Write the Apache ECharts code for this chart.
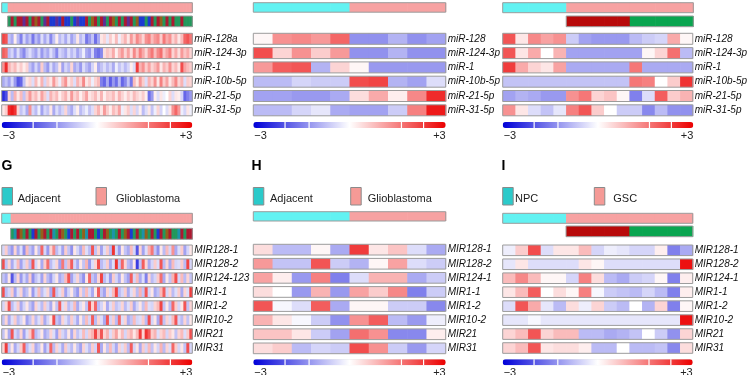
<!DOCTYPE html>
<html><head><meta charset="utf-8">
<script src="https://cdn.jsdelivr.net/npm/echarts@6/dist/echarts.min.js"></script>
<style>html,body{margin:0;padding:0;background:#fff}#c{width:750px;height:375px}</style>
</head><body><div id="c"></div><script>
// ---------------- DATA ----------------
const rowsTopLeft = ['miR-128a','miR-124-3p','miR-1','miR-10b-5p','miR-21-5p','miR-31-5p'];
const rowsTopSmall = ['miR-128','miR-124-3p','miR-1','miR-10b-5p','miR-21-5p','miR-31-5p'];
const rowsG = ['MIR128-1','MIR128-2','MIR124-123','MIR1-1','MIR1-2','MIR10-2','MIR21','MIR31'];
const rowsHI = ['MIR128-1','MIR128-2','MIR124-1','MIR1-1','MIR1-2','MIR10-2','MIR21','MIR31'];

// group sizes (samples per group, left to right)
const groupsTopLeft = [['Adjacent',2],['Glioblastoma',62]];
const groupsTopMid = [['Adjacent',5],['Glioblastoma',5]];
const groupsTopRight = [['NPC',5],['GSC',10]];
const groupsG = [['Adjacent',3],['Glioblastoma',61]];
const groupsH = [['Adjacent',5],['Glioblastoma',5]];
const groupsI = [['NPC',5],['GSC',10]];

// subtype annotation (tumour columns only)
const subtypeTopLeft = ['G','R','G','R','R','P','R','G','R','O','R','G','P','R',
  'B','B','P','B','R','B','B','G','B','P','B','B',
  'R','G','O','R','G','R','P','G','R','O','G','R','G','R','P','R','G','O',
  'B','B','G','B','R','G','R','O','G','R','G','R','G','G','R','G','G','G'];
const subtypeG = ['G','T','R','O','G','R','G','B','R','G','O','R','G','R','T','G','R','O',
  'G','B','R','G','R','G','O','T','R','R','G','B','G','R','O','G','T','G','R','G',
  'O','R','B','G','R','G','T','O','G','R','G','B','R','G','O','R','G','G','T','R','G','R','R'];
const subtypeGSC = ['D','D','D','D','D','E','E','E','E','E'];

// top-left panel (TCGA miRNA), 64 columns
const tl_miR128a = [2.2,2.0,-0.7,-1.0,0.2,-0.8,-1.5,-0.5,-1.1,-0.7,-1.6,-0.8,-1.2,-0.4,-1.0,-0.5,-1.4,-0.7,0.2,-0.8,-0.5,-1.0,-0.4,-1.1,-0.7,0.3,-0.8,-0.5,-1.6,-1.2,-0.7,-1.7,-1.0,0.3,0.5,-0.3,0.6,0.2,0.8,-0.2,0.5,0.9,0.3,1.2,0.6,1.4,1.0,0.5,1.3,1.5,0.8,1.2,1.4,0.6,1.6,1.0,1.3,0.5,0.9,0.3,0.8,1.8,2.0,1.6];
const tl_miR124 = [1.9,1.7,-0.8,-0.5,-1.1,-0.4,-1.0,-1.4,-0.7,-0.4,-0.8,-1.1,-0.5,-1.2,-0.7,-1.0,-0.4,-0.8,-1.4,-0.5,-0.7,-1.0,-0.4,-0.8,-0.5,-1.1,-0.7,-0.2,-1.0,-1.2,-0.5,-1.5,-1.7,-1.4,0.4,0.7,0.5,1.0,0.2,0.8,1.2,0.5,1.1,0.4,1.4,0.7,1.5,1.0,0.5,1.2,1.6,0.8,1.4,1.7,0.7,1.1,1.5,0.5,1.0,0.4,1.2,0.7,1.0,0.5];
const tl_miR1 = [1.3,2.5,0.9,0.5,0.8,0.3,0.6,0.2,0.5,-0.7,-1.1,-0.5,-1.0,0.6,-0.8,-1.2,-0.4,-1.0,-0.7,0.3,-1.1,-0.5,-0.8,0.5,-1.0,-0.7,-1.2,-0.4,-0.8,-1.1,-0.5,0.2,-1.0,-0.7,-0.4,-0.8,-0.5,-1.0,-0.2,-0.7,-0.4,-0.8,-0.5,0.2,-0.4,2.3,0.9,1.3,0.6,1.1,0.5,0.8,1.2,0.3,0.9,0.6,1.3,0.5,0.8,0.3,2.1,1.1,0.8,0.6];
const tl_miR10b = [-1.0,-0.7,-1.1,-0.5,-1.2,-2.0,-1.8,-0.7,0.3,0.5,-0.4,0.8,0.2,0.9,-0.5,0.6,0.3,1.2,0.5,-0.2,0.8,1.3,0.3,0.6,-0.4,0.9,0.5,1.4,0.3,0.6,-0.2,0.5,0.8,-1.5,-1.8,-1.0,-1.9,-1.2,-1.7,-0.8,-1.8,-1.4,-0.7,-1.6,0.8,0.3,1.2,0.6,-0.4,0.9,0.5,1.3,0.3,1.5,0.6,1.1,0.3,0.8,1.4,0.5,0.9,-0.4,0.6,0.5];
const tl_miR21 = [-2.5,-2.1,0.5,-0.8,0.9,0.3,0.8,-0.7,0.6,1.2,0.5,0.8,0.3,1.1,0.6,-0.4,0.9,0.5,0.8,0.2,0.6,0.9,0.3,1.2,0.5,0.8,0.2,0.6,1.1,0.3,0.5,0.8,0.3,0.9,0.2,0.6,0.5,0.8,0.3,0.9,0.5,0.2,0.6,0.3,0.8,0.5,0.3,0.6,0.2,-1.7,-1.2,0.2,-0.4,0.3,-0.2,0.0,0.5,-0.4,0.3,0.2,-0.5,-1.8,-1.5,-1.2];
const tl_miR31 = [0.3,0.6,2.5,2.7,2.4,0.5,-0.7,-0.4,-1.0,1.3,-0.5,-0.8,-0.2,-1.1,-0.5,-0.7,0.3,-1.0,-0.4,-0.8,-0.5,0.5,-0.7,-1.0,-0.4,0.2,-0.8,-0.5,-0.2,-0.7,-0.4,0.5,0.9,0.3,1.2,0.6,0.2,0.8,0.5,1.1,-0.2,0.3,0.6,-0.4,0.5,-0.5,0.2,-0.8,-0.4,0.3,-0.7,-0.2,0.5,-0.5,0.0,-0.4,0.3,1.3,1.8,1.2,-0.2,-0.5,0.3,-0.2];

// top-middle panel, 10 columns
const tm_miR128 = [0.1,1.3,1.4,1.2,1.8,-1.3,-1.3,-0.9,-1.3,-1.1];
const tm_miR124 = [2.1,0.5,1.3,0.6,1.2,-1.3,-1.3,-0.9,-1.3,-1.3];
const tm_miR1 = [1.2,1.9,2.0,-0.9,0.5,0.1,-1.2,-1.2,-1.2,-1.2];
const tm_miR10b = [-0.8,-0.8,-0.5,-0.6,-0.6,2.1,2.2,-0.9,-1.1,-0.4];
const tm_miR21 = [-1.1,-1.1,-1.2,-1.2,-1.0,0.4,1.0,0.2,1.4,2.5];
const tm_miR31 = [-0.8,-0.8,-0.5,-0.3,-1.0,-1.1,-1.1,-0.6,1.5,2.7];

// top-right panel, 15 columns
const tr_miR128 = [2.0,0.3,1.4,1.1,1.3,-0.6,-1.1,-1.2,-1.2,-1.2,-0.8,-0.6,-0.5,1.0,0.1];
const tr_miR124 = [2.0,0.3,1.0,0.0,0.9,-1.1,-1.1,-1.1,-1.1,-1.1,-1.1,0.1,0.5,1.7,-0.8];
const tr_miR1 = [2.3,1.0,0.5,0.3,1.1,-1.0,-1.0,-1.0,-1.0,-1.0,1.6,-1.0,-1.0,-1.0,-1.0];
const tr_miR10b = [-0.7,-0.7,-0.7,-0.7,-0.7,-0.7,-0.7,-0.7,-0.7,-0.7,1.6,1.5,0.0,0.6,2.4];
const tr_miR21 = [-1.1,-0.9,-1.0,-1.2,-1.2,1.3,1.6,0.5,0.7,0.1,-1.5,-0.4,1.9,0.6,0.9];
const tr_miR31 = [1.3,0.3,-0.4,-0.7,-0.3,1.5,2.0,0.6,0.0,-0.6,-0.6,-1.4,-0.8,-1.3,-1.3];

// panel G (TCGA pri-miRNA), 64 columns
const g_MIR128_1 = [-0.5,0.6,-0.8,-1.2,0.5,-1.0,-0.4,-1.3,0.8,-0.7, -1.1,0.3,-0.8,1.8,-0.5,-1.2,0.5,1.4,-0.8,-0.4, -1.1,0.6,-0.7,-1.3,0.3,-0.5,-1.0,0.8,-0.4,-0.8, 2.0,-0.7,0.5,-1.1,-0.4,0.6,-0.8,2.4,-0.5,-1.2, 0.3,-0.7,-1.0,0.8,-0.5,-2.0,0.5,-1.1,-0.4,0.9, 1.6,-0.7,-1.3,0.3,-0.8,0.8,-0.5,1.3,-1.0,-0.4, 0.6,-1.1,-0.5,0.3];
const g_MIR128_2 = [2.1,-0.7,0.5,-1.0,-0.4,0.8,-1.1,-0.5,0.6,-0.8, 2.0,-0.5,0.3,-1.0,0.6,1.7,-0.8,-0.4,0.5,-1.1, 1.6,-0.7,0.8,1.9,-0.5,-1.0,0.3,-0.7,0.9,-1.2, -0.4,0.5,2.1,-0.8,-0.5,0.6,-1.0,-0.4,2.4,-0.7, 1.8,0.5,-0.8,-1.1,0.3,-2.3,-0.7,1.9,0.5,-1.0, -0.5,0.6,-0.4,2.0,-0.8,0.5,-1.0,0.8,-0.5,-0.4, 0.6,-0.8,2.2,-0.5];
const g_MIR124_123 = [-0.7,-1.0,0.3,-2.0,-0.8,0.5,-1.2,-0.5,-1.0,0.6, -1.3,-0.7,-0.4,-1.1,0.5,-0.8,-1.2,-0.5,0.3,-1.0, -0.7,0.8,2.0,-1.1,-0.5,0.5,-0.8,-1.3,0.3,1.8, -0.7,-1.0,0.5,2.2,-0.8,-0.4,-1.2,0.6,-0.5,-1.0, 0.3,-0.7,-1.1,1.9,-0.5,0.8,-1.0,-0.4,-1.5,0.5, -0.8,-0.5,0.6,1.7,-1.0,0.3,-0.7,0.9,2.1,-0.5, 0.8,-0.8,0.5,-0.7];
const g_MIR1_1 = [2.1,-0.8,-0.5,0.6,-1.1,-0.4,0.5,-1.0,-0.7,0.3, -1.2,-0.5,0.8,-0.8,-0.4,0.5,-1.0,2.0,-0.7,-0.4, 0.6,-1.1,-0.5,0.3,-0.8,-1.2,0.5,-0.7,0.8,-0.5, -1.0,0.3,1.9,-0.7,-1.1,0.5,-0.4,0.8,2.2,-0.8, -0.5,0.6,-1.0,-0.4,0.5,-0.8,0.9,-0.7,2.0,-0.5, 0.3,-1.0,-0.7,0.8,1.9,-0.5,0.5,-0.8,-0.4,0.6, -1.0,0.5,-0.4,2.3];
const g_MIR1_2 = [-0.5,0.5,2.0,-0.8,-0.4,0.6,-1.0,-0.5,0.3,-0.7, -1.1,0.5,-0.4,-0.8,0.6,-0.5,-1.0,0.3,-0.7,1.9, -0.4,0.5,-0.8,-0.5,0.8,-1.0,-0.4,0.3,-0.7,2.1, 0.5,1.8,-0.8,-0.5,0.3,-1.0,-0.4,0.6,-0.7,-0.5, 0.5,-0.8,-0.4,0.6,-1.0,-0.5,0.3,-0.7,0.8,-0.4, -0.5,0.5,0.8,2.2,-0.7,0.3,-0.8,1.8,0.6,-0.5, 0.3,2.0,-0.7,0.5];
const g_MIR10_2 = [-0.7,0.5,-1.0,-0.4,0.6,-0.8,-0.5,0.3,-1.1,-0.7, 0.5,-0.8,-0.4,0.6,-1.0,-0.5,0.3,2.1,-0.7,-1.0, 0.5,-0.4,-0.8,0.6,-0.5,-1.0,0.3,-0.7,0.8,-0.5, 1.9,-0.8,0.5,-0.4,-1.0,2.0,-0.5,0.6,-0.8,1.8, -0.4,0.5,-1.0,-0.7,0.8,-0.5,-0.4,0.6,-0.8,2.1, -0.5,0.3,-1.0,1.9,-0.7,0.5,-0.4,0.8,2.0,-0.5, -0.8,0.5,-0.7,0.3];
const g_MIR21 = [-0.7,0.3,-1.0,2.0,-0.5,-0.8,0.5,-1.1,-0.4,0.6, 1.8,-0.8,-0.5,0.3,-1.0,-0.7,0.5,-0.4,-1.1,0.6, -0.5,-0.8,0.3,-1.0,0.5,-0.7,-0.4,0.8,-0.5,0.6, 0.9,2.2,0.8,2.0,0.5,0.9,-0.4,0.6,1.1,0.3, 0.8,-0.5,0.6,0.9,0.3,0.8,2.3,0.5,2.4,1.9, 0.6,0.9,-0.4,0.5,0.8,-0.5,0.6,0.3,-0.7,0.5, 0.8,-0.4,0.6,2.1];
const g_MIR31 = [0.5,2.3,-0.7,0.3,-1.0,-0.5,0.6,1.9,-0.8,-0.4, 0.5,-1.0,-0.7,0.3,-1.1,-0.5,1.8,-0.8,0.5,-0.4, -1.0,0.6,-0.5,-0.8,0.3,-0.7,-1.1,0.5,-0.4,-0.8, 0.6,-0.5,2.0,-1.0,0.3,-0.7,0.8,-0.5,-1.0,0.5, -0.4,0.6,-0.8,1.9,-0.5,0.3,-1.0,0.6,-0.5,0.8, -0.7,0.3,-0.5,0.9,-0.8,0.5,-0.4,1.8,0.6,-0.5, 0.3,-0.7,2.1,-0.5];

// panel H, 10 columns
const h_MIR128_1 = [0.4,-0.8,-0.8,0.1,-1.0,2.3,0.3,0.7,-0.4,-1.0];
const h_MIR128_2 = [1.2,-0.7,-0.7,2.0,-0.6,-0.9,0.1,1.1,-0.4,-0.6];
const h_MIR124_1 = [1.1,0.2,-1.2,1.5,-1.5,-0.4,0.9,0.9,-1.0,-0.6];
const h_MIR1_1 = [0.4,0.0,-1.2,0.9,-1.2,1.1,0.6,1.4,-1.5,-0.6];
const h_MIR1_2 = [2.0,-0.1,-0.4,1.9,-1.0,0.1,0.1,-0.6,-0.6,-1.4];
const h_MIR10_2 = [0.9,0.3,-0.1,-0.6,-1.3,1.3,1.9,-0.8,-1.2,-0.2];
const h_MIR21 = [0.7,0.7,0.3,-0.6,-1.1,1.7,1.3,-1.4,-1.4,0.2];
const h_MIR31 = [0.4,0.6,-0.8,-0.5,-0.6,2.1,1.3,-0.6,-1.2,-0.5];

// panel I, 15 columns
const i_MIR128_1 = [-0.2,0.6,2.1,-0.4,0.3,0.3,0.8,-0.5,-0.2,-0.3,-0.5,-0.5,0.2,-1.5,-1.0];
const i_MIR128_2 = [-0.3,0.3,-0.4,-0.4,-0.4,-0.4,0.3,0.1,-0.4,-0.4,-0.4,-0.4,-0.4,-0.4,2.8];
const i_MIR124_1 = [0.8,1.4,0.8,0.1,0.1,-0.5,1.5,0.4,-0.8,-1.0,-0.6,-0.5,0.1,-1.5,0.2];
const i_MIR1_1 = [0.3,0.8,1.9,0.0,0.4,0.1,1.5,-0.1,-0.6,-0.7,-0.8,-0.5,-0.8,-1.5,0.2];
const i_MIR1_2 = [-0.4,2.0,1.0,-0.3,-0.8,0.4,-0.2,0.5,-0.6,-0.8,0.0,-0.9,0.5,-1.5,0.1];
const i_MIR10_2 = [-0.3,-0.3,-0.1,-0.3,-0.3,-0.3,-0.3,-0.3,-0.3,-0.3,-0.3,-0.3,-0.3,-0.3,2.8];
const i_MIR21 = [0.5,0.8,2.0,0.5,0.8,0.8,-0.8,-0.8,-1.0,-0.9,-0.7,0.0,-0.6,-1.3,0.5];
const i_MIR31 = [0.5,0.8,2.0,0.3,0.4,0.4,0.2,-0.8,-0.8,0.0,-0.8,-0.8,-0.7,-1.4,0.4];

// ---------------- STYLE ----------------
const FONT = '"Liberation Sans", Arial, sans-serif';
const HEAT_COLORS = ['#0000d8', '#ffffff', '#ec0000'];
const GROUP_COLORS = {Adjacent:'#62f2f2', Glioblastoma:'#f7a2a2', NPC:'#62f2f2', GSC:'#f7a2a2'};
const LEGEND_COLORS = {Adjacent:'#2bcaca', Glioblastoma:'#f59a96', NPC:'#2bcaca', GSC:'#f59a96'};
const SUB_COLORS = {R:'#ad1830', G:'#22985c', B:'#1c3ad2', P:'#5f2e94', O:'#93601c', T:'#1c93aa', D:'#b80a0a', E:'#0aa550'};
const BORDER = '#9c9c9c';

const grid = [], xAxis = [], yAxis = [], series = [], visualMap = [], graphic = [];

function addAxes(gi, n, yData, yOpts) {
  xAxis.push({type:'category', gridIndex:gi, data:Array.from({length:n}, (_, i) => String(i)), show:false});
  yAxis.push(Object.assign({type:'category', gridIndex:gi, data:yData, show:false}, yOpts || {}));
}

function addOutline(gi, c0, c1, nRows, ratio) {
  const data = [];
  for (let r = 0; r < nRows; r++) data.push([c0, r, c1]);
  series.push({type:'custom', xAxisIndex:gi, yAxisIndex:gi, data, z:5, silent:true, encode:{x:0, y:1},
    renderItem: (p, api) => {
      const a = api.coord([api.value(0), api.value(1)]);
      const b = api.coord([api.value(2), api.value(1)]);
      const s = api.size([1, 1]);
      const h = s[1] * ratio;
      return {type:'rect', shape:{x:a[0]-s[0]/2, y:a[1]-h/2, width:b[0]-a[0]+s[0], height:h},
        style:{fill:null, stroke:BORDER, lineWidth:1}};
    }});
}

function addStrip(left, top, width, height, n, colors, c0) {
  const gi = grid.length;
  grid.push({left, top, width, height});
  addAxes(gi, n, ['']);
  const data = [];
  for (let c = c0; c < n; c++) data.push([c, 0]);
  series.push({type:'custom', xAxisIndex:gi, yAxisIndex:gi, data, silent:true, encode:{x:0, y:1},
    renderItem: (p, api) => {
      const c = api.value(0);
      const pt = api.coord([c, 0]);
      const s = api.size([1, 1]);
      return {type:'rect', shape:{x:pt[0]-s[0]/2, y:pt[1]-s[1]/2, width:s[0]+0.6, height:s[1]},
        style:{fill:colors[c]}};
    }});
  addOutline(gi, c0, n - 1, 1, 1);
}

function addHeat(left, rowTop, width, rowStep, rowH, names, rows, cbTop) {
  const gi = grid.length;
  const n = rows[0].length;
  grid.push({left, top:rowTop-(rowStep-rowH)/2, width, height:names.length*rowStep});
  addAxes(gi, n, names, {show:true, inverse:true, position:'right',
    axisLine:{show:false}, axisTick:{show:false}, splitLine:{show:false},
    axisLabel:{fontStyle:'italic', fontSize:10, color:'#111', margin:2, fontFamily:FONT}});
  const data = [];
  rows.forEach((vals, r) => vals.forEach((v, c) => data.push([c, r, v])));
  const ratio = rowH / rowStep;
  const si = series.length;
  series.push({type:'custom', xAxisIndex:gi, yAxisIndex:gi, data, silent:true, encode:{x:0, y:1},
    renderItem: (p, api) => {
      const pt = api.coord([api.value(0), api.value(1)]);
      const s = api.size([1, 1]);
      const h = s[1] * ratio;
      return {type:'rect', shape:{x:pt[0]-s[0]/2, y:pt[1]-h/2, width:s[0]+0.6, height:h},
        style:{fill:api.visual('color')}};
    }});
  addOutline(gi, 0, n - 1, names.length, ratio);
  // colour key
  visualMap.push({type:'continuous', min:-3, max:3, dimension:2, seriesIndex:si,
    inRange:{color:HEAT_COLORS}, orient:'horizontal', left:left, top:cbTop,
    itemWidth:6, itemHeight:width, calculable:false, padding:0, hoverLink:false, text:null});
  [0.165, 0.29, 0.77, 0.885].forEach(f => graphic.push({type:'rect', silent:true, z:100,
    shape:{x:left + f*width - 0.6, y:cbTop, width:1.2, height:6}, style:{fill:'#fff'}}));
  graphic.push({type:'text', silent:true, x:left + 1, y:cbTop + 13.5,
    style:{text:'\u22123', font:'11px ' + FONT, fill:'#222', textVerticalAlign:'middle', textAlign:'left'}});
  graphic.push({type:'text', silent:true, x:left + width, y:cbTop + 13.5,
    style:{text:'+3', font:'11px ' + FONT, fill:'#222', textVerticalAlign:'middle', textAlign:'right'}});
}

function groupColors(groups) {
  const out = [];
  groups.forEach(([name, k]) => { for (let i = 0; i < k; i++) out.push(GROUP_COLORS[name]); });
  return out;
}
function subColors(offset, codes) {
  const out = new Array(offset).fill(null);
  codes.forEach(c => out.push(SUB_COLORS[c]));
  return out;
}
function legend(x, y, label, text, tx) {
  graphic.push({type:'rect', silent:true, shape:{x:x, y:y, width:10.5, height:17.5},
    style:{fill:LEGEND_COLORS[label], stroke:'#8a8a8a', lineWidth:1}});
  graphic.push({type:'text', silent:true, x:tx, y:y + 11.5,
    style:{text:text, font:'11px ' + FONT, fill:'#222', textVerticalAlign:'middle'}});
}
function letter(x, ch) {
  graphic.push({type:'text', silent:true, x:x, y:166.5,
    style:{text:ch, font:'bold 14px ' + FONT, fill:'#000', textVerticalAlign:'middle'}});
}

// ---- top-left ----
addStrip(1.7, 2.7, 190.6, 10, 64, groupColors(groupsTopLeft), 0);
addStrip(1.7, 16, 190.6, 10.7, 64, subColors(2, subtypeTopLeft), 2);
addHeat(1.7, 33.3, 190.6, 14.3, 11, rowsTopLeft,
  [tl_miR128a, tl_miR124, tl_miR1, tl_miR10b, tl_miR21, tl_miR31], 122);
// ---- top-middle ----
addStrip(253.3, 2.7, 192.4, 9.5, 10, groupColors(groupsTopMid), 0);
addHeat(253.3, 33.3, 192.4, 14.3, 11, rowsTopSmall,
  [tm_miR128, tm_miR124, tm_miR1, tm_miR10b, tm_miR21, tm_miR31], 122);
// ---- top-right ----
addStrip(502.7, 2.7, 190.6, 10, 15, groupColors(groupsTopRight), 0);
addStrip(502.7, 16, 190.6, 10.7, 15, subColors(5, subtypeGSC), 5);
addHeat(502.7, 33.3, 190.6, 14.3, 11, rowsTopSmall,
  [tr_miR128, tr_miR124, tr_miR1, tr_miR10b, tr_miR21, tr_miR31], 122);
// ---- G ----
letter(1.5, 'G');
legend(2, 187.5, 'Adjacent', 'Adjacent', 17.7);
legend(96, 187.5, 'Glioblastoma', 'Glioblastoma', 116);
addStrip(1.7, 213.3, 190.6, 10, 64, groupColors(groupsG), 0);
addStrip(1.7, 228.3, 190.6, 11, 64, subColors(3, subtypeG), 3);
addHeat(1.7, 245, 190.6, 13.96, 10.6, rowsG,
  [g_MIR128_1, g_MIR128_2, g_MIR124_123, g_MIR1_1, g_MIR1_2, g_MIR10_2, g_MIR21, g_MIR31], 359.3);
// ---- H ----
letter(251.5, 'H');
legend(253.3, 187.5, 'Adjacent', 'Adjacent', 270);
legend(350.7, 187.5, 'Glioblastoma', 'Glioblastoma', 367.7);
addStrip(253.3, 211.7, 192.4, 9.3, 10, groupColors(groupsH), 0);
addHeat(253.3, 244.3, 192.4, 14.1, 10.7, rowsHI,
  [h_MIR128_1, h_MIR128_2, h_MIR124_1, h_MIR1_1, h_MIR1_2, h_MIR10_2, h_MIR21, h_MIR31], 359.3);
// ---- I ----
letter(501.5, 'I');
legend(502.7, 187.5, 'NPC', 'NPC', 515);
legend(594.3, 187.5, 'GSC', 'GSC', 613.3);
addStrip(502.7, 213.3, 190, 10, 15, groupColors(groupsI), 0);
addStrip(502.7, 226, 190, 10.7, 15, subColors(5, subtypeGSC), 5);
addHeat(502.7, 245, 190, 13.96, 10.6, rowsHI,
  [i_MIR128_1, i_MIR128_2, i_MIR124_1, i_MIR1_1, i_MIR1_2, i_MIR10_2, i_MIR21, i_MIR31], 359.3);

const chart = echarts.init(document.getElementById('c'), null, {renderer:'canvas'});
chart.setOption({animation:false, backgroundColor:'#fff', textStyle:{fontFamily:FONT},
  grid, xAxis, yAxis, series, visualMap, graphic});
</script></body></html>
